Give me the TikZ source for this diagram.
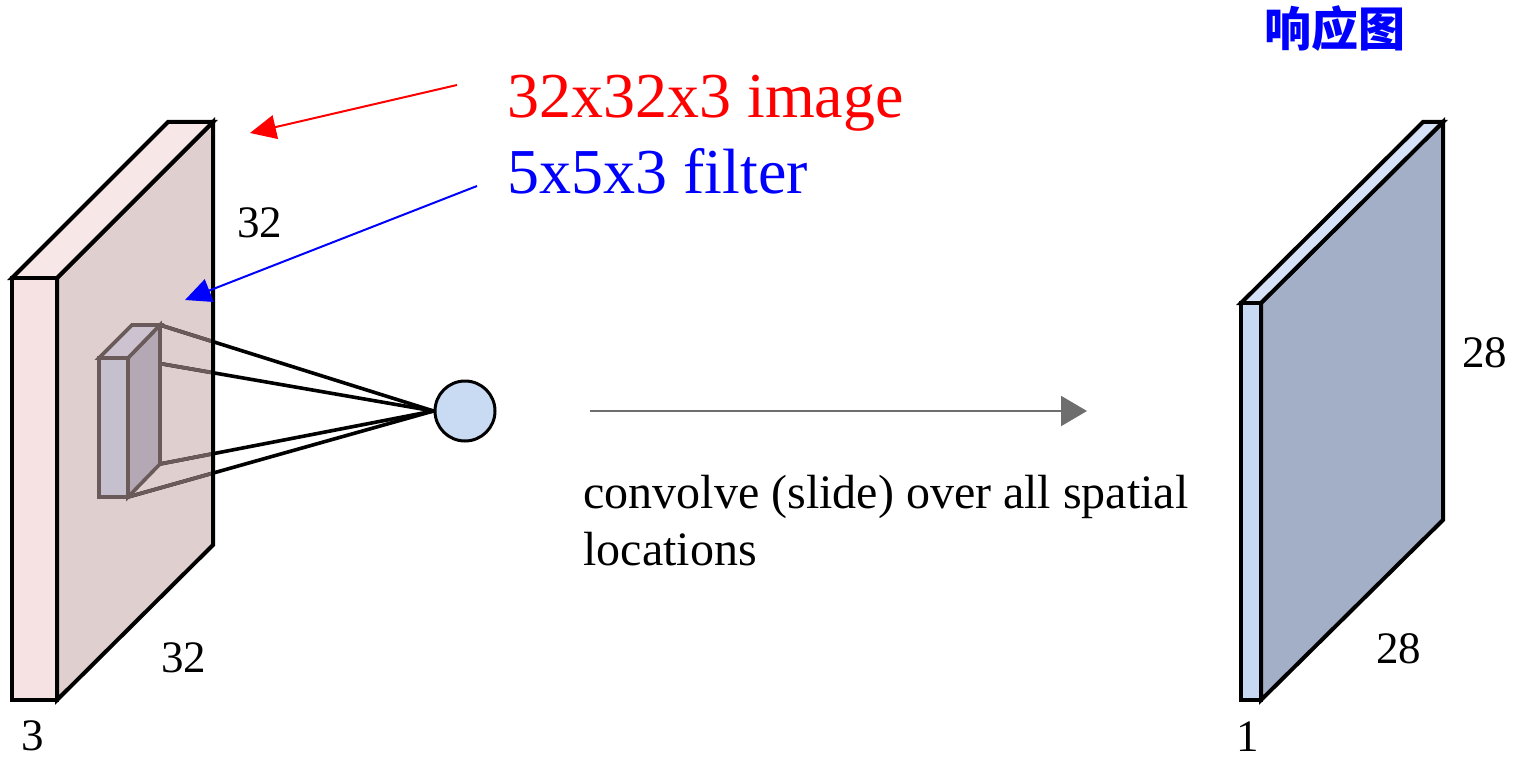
\documentclass[tikz,border=0pt]{standalone}
\usepackage{fontspec}
\setmainfont{Liberation Serif}
\newfontfamily\cjk{Noto Sans CJK SC}
\usetikzlibrary{arrows.meta}
\definecolor{pinkfront}{HTML}{F6E2E2}
\definecolor{pinktop}{HTML}{F7E7E7}
\definecolor{pinkface}{HTML}{DFCFCF}
\definecolor{filtfront}{HTML}{C6BFCE}
\definecolor{filtside}{HTML}{B3A8B4}
\definecolor{filttop}{HTML}{CDC3D0}
\definecolor{filtedge}{HTML}{6A5A5A}
\definecolor{neuron}{HTML}{C9DAF3}
\definecolor{bluefront}{HTML}{C8D9F4}
\definecolor{bluetop}{HTML}{D5E1F6}
\definecolor{blueface}{HTML}{A3AFC7}
\definecolor{arrowgray}{HTML}{6E6E6E}
\begin{document}
\begin{tikzpicture}[x=0.5pt,y=-0.5pt,
  blk/.style={draw=black,line width=2pt,line join=miter},
  filt/.style={draw=filtedge,line width=1.8pt,line join=miter},
  conn/.style={line width=1.8pt},
  lbl/.style={inner sep=0pt,anchor=base west,font=\fontsize{22.5}{27}\selectfont},
  title/.style={inner sep=0pt,anchor=base west,font=\fontsize{32}{38}\selectfont},
  callout/.style={line width=1pt,-{Triangle[length=13pt,width=12pt]}}]
\useasboundingbox (0,0) rectangle (1518,759);

% left block corners
\coordinate (A1) at (12,278);
\coordinate (A2) at (57,278);
\coordinate (A3) at (213,122);
\coordinate (A4) at (168,122);
\coordinate (A5) at (57,700);
\coordinate (A6) at (12,700);
\coordinate (A7) at (213,545);

% filter corners
\coordinate (F1) at (99,358);
\coordinate (F2) at (128,358);
\coordinate (F3) at (128,497);
\coordinate (F4) at (99,497);
\coordinate (B1) at (132,325);
\coordinate (B2) at (160,325);
\coordinate (B3) at (160,464);

% neuron
\node[circle,draw=black,line width=1.5pt,fill=neuron,minimum size=30pt,inner sep=0pt] (neuron) at (465,411) {};

% big face fill
\fill[pinkface] (A2) -- (A3) -- (A7) -- (A5) -- cycle;

% connections (black outside, grey over the face)
\draw[conn,black] (B2) -- (neuron.west);
\draw[conn,black] (F2) -- (neuron.west);
\draw[conn,black] (B3) -- (neuron.west);
\draw[conn,black] (F3) -- (neuron.west);
\begin{scope}
  \clip (A2) -- (A3) -- (A7) -- (A5) -- cycle;
  \draw[conn,filtedge] (B2) -- (neuron.west);
  \draw[conn,filtedge] (F2) -- (neuron.west);
  \draw[conn,filtedge] (B3) -- (neuron.west);
  \draw[conn,filtedge] (F3) -- (neuron.west);
\end{scope}

% left block outlines
\draw[blk] (A2) -- (A3) -- (A7) -- (A5) -- cycle;
\filldraw[blk,fill=pinktop] (A1) -- (A4) -- (A3) -- (A2) -- cycle;
\filldraw[blk,fill=pinkfront] (A1) -- (A2) -- (A5) -- (A6) -- cycle;

% filter box
\filldraw[filt,fill=filtside] (F2) -- (B2) -- (B3) -- (F3) -- cycle;
\filldraw[filt,fill=filttop] (F1) -- (B1) -- (B2) -- (F2) -- cycle;
\filldraw[filt,fill=filtfront] (F1) -- (F2) -- (F3) -- (F4) -- cycle;

% right block
\coordinate (R1) at (1241,303);
\coordinate (R2) at (1261,303);
\coordinate (R3) at (1443,122);
\coordinate (R4) at (1423,122);
\coordinate (R5) at (1261,700);
\coordinate (R6) at (1241,700);
\coordinate (R7) at (1443,520);
\filldraw[blk,fill=blueface] (R2) -- (R3) -- (R7) -- (R5) -- cycle;
\filldraw[blk,fill=bluetop] (R1) -- (R4) -- (R3) -- (R2) -- cycle;
\filldraw[blk,fill=bluefront] (R1) -- (R2) -- (R5) -- (R6) -- cycle;

% slide arrow
\coordinate (arrS) at (590,411);
\coordinate (arrE) at (1087,411);
\draw[arrowgray,line width=1pt,-{Triangle[length=13pt,width=15pt]}] (arrS) -- (arrE);

% titles and callouts
\node[title,text=red] (imgtxt) at (507,118) {32x32x3 image};
\node[title,text=blue] (filttxt) at (507,193) {5x5x3 filter};
\coordinate (redS) at (457,85);
\coordinate (redE) at (250,133);
\coordinate (blueS) at (477,186);
\coordinate (blueE) at (185,300);
\draw[callout,red] (redS) -- (redE);
\draw[callout,blue] (blueS) -- (blueE);

% dimension labels
\node[lbl] (l32a) at (237,237) {32};
\node[lbl] (l32b) at (161,672) {32};
\node[lbl] (l3) at (21,750) {3};
\node[lbl] (l28a) at (1462,367) {28};
\node[lbl] (l28b) at (1376,663) {28};
\node[lbl] (l1) at (1236,751) {1};

% caption (anchor at the baseline of the last line)
\node[inner sep=0pt,anchor=base west,align=left,font=\fontsize{24}{28.5}\selectfont] (conv) at (583,565) {convolve (slide) over all spatial\\locations};

% response map title
\node[inner sep=0pt,anchor=base west,text=blue,font=\cjk\bfseries\fontsize{23.5}{28}\selectfont] (resp) at (1264,47) {响应图};
\end{tikzpicture}
\end{document}
